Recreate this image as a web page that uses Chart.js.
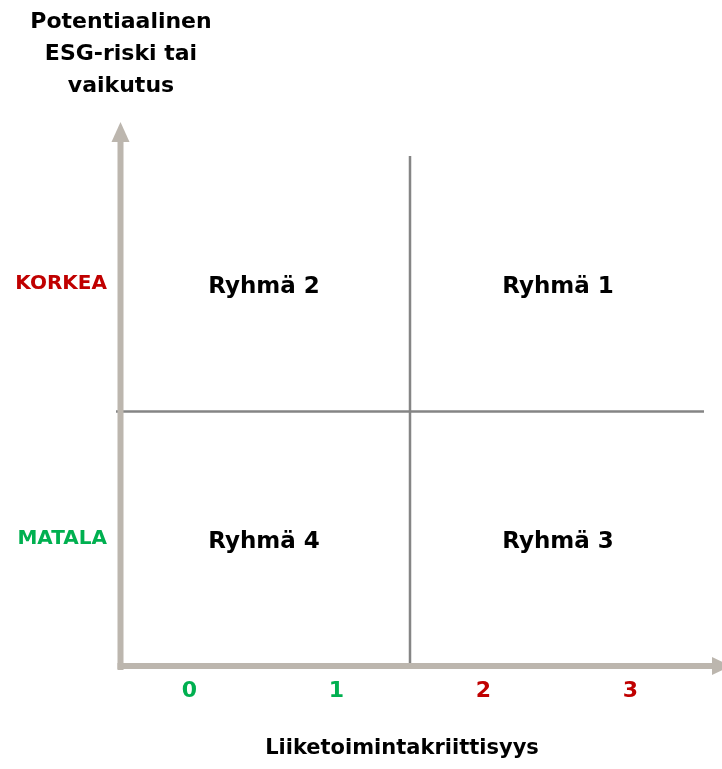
<!DOCTYPE html>
<html>
<head>
<meta charset="utf-8">
<script src="https://cdn.jsdelivr.net/npm/chart.js@4/dist/chart.umd.min.js"></script>
<style>
  html, body { margin: 0; padding: 0; background: #ffffff; }
  #wrap { width: 722px; height: 769px; position: relative; }
</style>
</head>
<body>
<div id="wrap"><canvas id="c" width="722" height="769"></canvas></div>
<script>
// ---- data ----
const xCategories = ['0', '1', '2', '3'];
const xCategoryColors = ['#00B050', '#00B050', '#C00000', '#C00000'];
const yLevels = ['MATALA', 'KORKEA'];
const yLevelColors = ['#00B050', '#C00000'];
const groupNames = ['Ryhmä 4', 'Ryhmä 3', 'Ryhmä 2', 'Ryhmä 1'];
const groupX = [1, 3, 1, 3];
const groupY = [0.5, 0.5, 1.5, 1.5];
const dividerX = 2;
const dividerY = 1;
const yTitleLines = ['Potentiaalinen', 'ESG-riski tai', 'vaikutus'];
const xTitle = 'Liiketoimintakriittisyys';

// ---- style ----
const FONT = '"DejaVu Sans", "Open Sans", sans-serif';
const AXIS_COLOR = '#BCB6AE';
const DIVIDER_COLOR = '#858585';

const xMax = xCategories.length;
const yMax = yLevels.length;

const decoPlugin = {
  id: 'deco',
  afterDatasetsDraw(chart) {
    const ctx = chart.ctx;
    const a = chart.chartArea;
    ctx.save();
    ctx.fillStyle = AXIS_COLOR;
    // vertical axis with arrow
    const vx = a.left + 4.5;
    ctx.fillRect(vx - 3, a.top - 14, 6, a.bottom - a.top + 17);
    ctx.beginPath();
    ctx.moveTo(vx - 9, a.top - 14);
    ctx.lineTo(vx + 9, a.top - 14);
    ctx.lineTo(vx, a.top - 34);
    ctx.closePath();
    ctx.fill();
    // horizontal axis with arrow
    const hy = a.bottom - 1;
    ctx.fillRect(a.left + 1.5, hy - 3, a.right - a.left + 7, 6);
    ctx.beginPath();
    ctx.moveTo(a.right + 8, hy - 9);
    ctx.lineTo(a.right + 8, hy + 9);
    ctx.lineTo(a.right + 27, hy);
    ctx.closePath();
    ctx.fill();

    const meta = chart.getDatasetMeta(0);
    ctx.fillStyle = '#000000';
    ctx.textAlign = 'center';
    ctx.textBaseline = 'middle';
    ctx.font = 'bold 23px ' + FONT;
    meta.data.forEach((pt, i) => {
      ctx.fillText(groupNames[i], pt.x + 1, pt.y + 3);
    });
    // y title
    ctx.font = 'bold 22px ' + FONT;
    yTitleLines.forEach((t, i) => ctx.fillText(t, 121, 22 + i * 32));
    // x title
    ctx.font = 'bold 21px ' + FONT;
    ctx.fillText(xTitle, 402, 749);
    ctx.restore();
  }
};

new Chart(document.getElementById('c'), {
  type: 'scatter',
  data: {
    datasets: [
      {
        label: 'groups',
        data: groupNames.map((n, i) => ({ x: groupX[i], y: groupY[i] })),
        pointRadius: 0,
        pointHoverRadius: 0
      },
      {
        label: 'vdiv',
        data: [{ x: dividerX, y: 0 }, { x: dividerX, y: yMax }],
        showLine: true,
        borderColor: DIVIDER_COLOR,
        borderWidth: 2.5,
        pointRadius: 0
      },
      {
        label: 'hdiv',
        data: [{ x: 0, y: dividerY }, { x: xMax, y: dividerY }],
        showLine: true,
        borderColor: DIVIDER_COLOR,
        borderWidth: 2.5,
        pointRadius: 0
      }
    ]
  },
  options: {
    responsive: false,
    animation: false,
    layout: { padding: { top: 156, right: 18, left: 0, bottom: 0 } },
    plugins: { legend: { display: false }, tooltip: { enabled: false } },
    scales: {
      x: {
        type: 'linear', min: 0, max: xMax,
        grid: { display: false, drawTicks: false }, border: { display: false },
        afterBuildTicks(s) { s.ticks = xCategories.map((c, i) => ({ value: i + 0.5 })); },
        afterFit(s) { s.height = 102; },
        ticks: {
          padding: 11,
          autoSkip: false, maxRotation: 0,
          font: { family: FONT, size: 22, weight: 'bold' },
          color: (c) => xCategoryColors[c.index],
          callback: (v, i) => xCategories[i]
        }
      },
      y: {
        type: 'linear', min: 0, max: yMax,
        grid: { display: false, drawTicks: false }, border: { display: false },
        afterBuildTicks(s) { s.ticks = yLevels.map((c, i) => ({ value: i + 0.5 })); },
        afterFit(s) { s.width = 116; },
        ticks: {
          padding: 9,
          autoSkip: false,
          font: { family: FONT, size: 20, weight: 'bold' },
          color: (c) => yLevelColors[c.index],
          callback: (v, i) => yLevels[i]
        }
      }
    }
  },
  plugins: [decoPlugin]
});
</script>
</body>
</html>
